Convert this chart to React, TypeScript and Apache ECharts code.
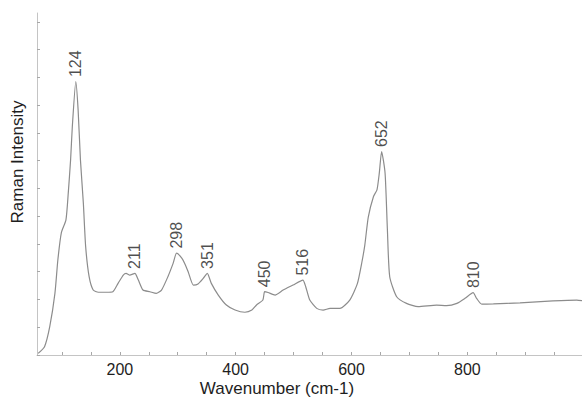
import React, { useEffect, useRef } from "react";
import * as echarts from "echarts";

// Raman spectrum
const wavenumber = [
  59, 70, 79, 88, 93, 99, 107, 111, 115, 118, 124, 128, 132, 137, 141, 147, 154, 163, 177, 188,
  197, 206, 211, 214, 217, 226, 232, 240, 252, 263, 272, 283, 292, 298, 307, 312, 318, 327, 335, 344,
  351, 358, 370, 384, 399, 416, 428, 436, 447, 450, 456, 468, 482, 499, 516, 521, 528, 540, 551, 563,
  580, 597, 610, 618, 623, 629, 638, 644, 648, 652, 658, 662, 666, 678, 695, 715, 747, 764, 782, 796,
  810, 816, 825, 845, 891, 948, 989, 998,
];
const intensity = [
  6, 30, 102, 223, 342, 440, 487, 584, 703, 823, 985, 883, 703, 548, 391, 282, 234, 226, 226, 228,
  258, 288, 294, 291, 288, 294, 270, 234, 228, 222, 234, 282, 330, 367, 349, 330, 300, 252, 256, 276,
  294, 258, 216, 180, 162, 154, 162, 180, 198, 228, 225, 216, 234, 252, 270, 246, 198, 168, 162, 168,
  168, 198, 256, 335, 396, 497, 571, 595, 655, 733, 655, 451, 282, 210, 186, 174, 180, 178, 186, 204,
  225, 204, 183, 184, 188, 195, 198, 196,
];

// Peak annotations: label text and the wavenumber of the point it sits on
const peakLabels = ["124", "211", "298", "351", "450", "516", "652", "810"];
const peakAt = [124, 226, 298, 351, 450, 516, 652, 810];

const xLabelValues = [200, 400, 600, 800];
const xTickValues = [100, 150, 200, 250, 300, 350, 400, 450, 500, 550, 600, 650, 700, 750, 800, 850, 900, 950];
const yTickValues = [0, 100, 200, 300, 400, 500, 600, 700, 800, 900, 1000, 1100, 1200];

const FONT = "Liberation Sans, Arial, sans-serif";

export default function App() {
  const ref = useRef<HTMLDivElement>(null);
  useEffect(() => {
    if (!ref.current) return;
    const chart = echarts.init(ref.current, undefined, { renderer: "svg" });
    const lineData = wavenumber.map((w, i) => [w, intensity[i]]);
    const peakData = peakAt.map((w, i) => ({
      value: [w, intensity[wavenumber.indexOf(w)]],
      label: { formatter: peakLabels[i] },
    }));
    chart.setOption({
      animation: false,
      backgroundColor: "#ffffff",
      grid: { left: 37, right: 0, top: 13, bottom: 43, containLabel: false },
      xAxis: {
        type: "value",
        min: 57,
        max: 998,
        axisLine: { show: true, lineStyle: { color: "#c4c4c4", width: 1 } },
        axisTick: {
          show: true,
          inside: true,
          length: 3,
          interval: 0,
          customValues: xTickValues,
          lineStyle: { color: "#a8a8a8" },
        },
        axisLabel: {
          customValues: xLabelValues,
          interval: 0,
          color: "#1e1e1e",
          fontSize: 16,
          fontFamily: FONT,
          margin: 6,
        },
        splitLine: { show: false },
      },
      yAxis: {
        type: "value",
        min: 0,
        max: 1232,
        axisLine: { show: true, lineStyle: { color: "#c4c4c4", width: 1 } },
        axisTick: {
          show: true,
          inside: true,
          length: 3,
          interval: 0,
          customValues: yTickValues,
          lineStyle: { color: "#a8a8a8" },
        },
        axisLabel: { show: false },
        splitLine: { show: false },
      },
      series: [
        {
          type: "line",
          data: lineData,
          showSymbol: false,
          smooth: 0.2,
          lineStyle: { color: "#8c8c8c", width: 1.2 },
        },
        {
          type: "scatter",
          data: peakData,
          symbolSize: 1,
          itemStyle: { color: "rgba(0,0,0,0)" },
          label: {
            show: true,
            position: "top",
            distance: 4,
            rotate: 90,
            align: "left",
            verticalAlign: "middle",
            color: "#1e1e1e",
            fontSize: 16,
            fontFamily: FONT,
          },
        },
      ],
      graphic: [
        {
          type: "text",
          x: 277,
          y: 388,
          style: {
            text: "Wavenumber (cm-1)",
            fill: "#1e1e1e",
            font: `17px ${FONT}`,
            textAlign: "center",
            textVerticalAlign: "middle",
          },
        },
        {
          type: "text",
          x: 17,
          y: 162,
          rotation: Math.PI / 2,
          style: {
            text: "Raman Intensity",
            fill: "#1e1e1e",
            font: `17px ${FONT}`,
            textAlign: "center",
            textVerticalAlign: "middle",
          },
        },
      ],
    });
    return () => chart.dispose();
  }, []);
  return (
    <div
      ref={ref}
      style={{ position: "absolute", left: 0, top: 0, width: 582, height: 398 }}
    />
  );
}
